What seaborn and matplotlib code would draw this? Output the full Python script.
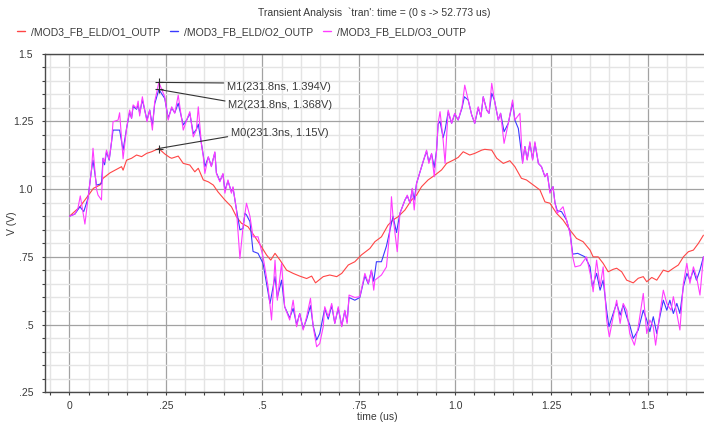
import numpy as np
import pandas as pd
import matplotlib
matplotlib.use("Agg")
import matplotlib.pyplot as plt
from matplotlib.lines import Line2D
from matplotlib.ticker import MultipleLocator
import seaborn as sns

# ---- waveform samples: time in us, voltage in V ----
o1_time = [0.000, 0.027, 0.053, 0.062, 0.079, 0.087, 0.105, 0.122, 0.135, 0.139,
           0.148, 0.161, 0.174, 0.187, 0.200, 0.213, 0.2313, 0.247, 0.260, 0.265,
           0.282, 0.295, 0.312, 0.325, 0.334, 0.347, 0.360, 0.373, 0.385, 0.403,
           0.420, 0.433, 0.446, 0.463, 0.481, 0.498, 0.511, 0.522, 0.533, 0.546,
           0.563, 0.580, 0.597, 0.615, 0.628, 0.638, 0.658, 0.675, 0.693, 0.706,
           0.723, 0.740, 0.757, 0.779, 0.792, 0.809, 0.826, 0.839, 0.852, 0.870,
           0.887, 0.900, 0.913, 0.930, 0.948, 0.965, 0.978, 0.995, 1.008, 1.021,
           1.038, 1.051, 1.069, 1.077, 1.095, 1.108, 1.125, 1.142, 1.155, 1.172,
           1.185, 1.203, 1.220, 1.233, 1.246, 1.263, 1.280, 1.298, 1.315, 1.332,
           1.350, 1.358, 1.371, 1.384, 1.397, 1.410, 1.419, 1.432, 1.445, 1.462,
           1.475, 1.488, 1.497, 1.510, 1.523, 1.540, 1.553, 1.566, 1.579, 1.592,
           1.605, 1.618, 1.631, 1.644]
o1_volt = [0.900, 0.935, 0.985, 1.003, 1.015, 1.040, 1.060, 1.073, 1.083, 1.070,
           1.107, 1.114, 1.126, 1.120, 1.132, 1.138, 1.150, 1.130, 1.117, 1.114,
           1.122, 1.095, 1.089, 1.064, 1.077, 1.034, 1.027, 1.015, 0.990, 0.960,
           0.935, 0.898, 0.874, 0.861, 0.824, 0.787, 0.757, 0.738, 0.763, 0.738,
           0.701, 0.689, 0.679, 0.670, 0.679, 0.654, 0.677, 0.683, 0.677, 0.689,
           0.720, 0.732, 0.757, 0.781, 0.806, 0.824, 0.867, 0.886, 0.898, 0.923,
           0.960, 0.978, 1.009, 1.034, 1.052, 1.071, 1.095, 1.107, 1.117, 1.138,
           1.126, 1.132, 1.144, 1.147, 1.144, 1.114, 1.095, 1.105, 1.083, 1.040,
           1.034, 1.015, 0.997, 0.953, 0.948, 0.911, 0.886, 0.849, 0.818, 0.806,
           0.775, 0.750, 0.750, 0.726, 0.695, 0.704, 0.708, 0.695, 0.664, 0.654,
           0.671, 0.677, 0.658, 0.674, 0.664, 0.701, 0.695, 0.708, 0.720, 0.750,
           0.769, 0.775, 0.800, 0.830]

o2_time = [0.000, 0.014, 0.027, 0.037, 0.048, 0.057, 0.061, 0.070, 0.083, 0.087,
           0.091, 0.096, 0.103, 0.109, 0.113, 0.130, 0.139, 0.148, 0.152, 0.156,
           0.161, 0.165, 0.174, 0.178, 0.182, 0.189, 0.195, 0.201, 0.208, 0.215,
           0.221, 0.2318, 0.247, 0.256, 0.265, 0.273, 0.282, 0.295, 0.304, 0.312,
           0.321, 0.329, 0.334, 0.342, 0.347, 0.351, 0.360, 0.368, 0.377, 0.381,
           0.390, 0.398, 0.403, 0.411, 0.420, 0.424, 0.433, 0.442, 0.450, 0.455,
           0.459, 0.468, 0.476, 0.489, 0.502, 0.511, 0.520, 0.528, 0.533, 0.539,
           0.550, 0.558, 0.571, 0.580, 0.589, 0.597, 0.606, 0.615, 0.625, 0.632,
           0.641, 0.649, 0.658, 0.662, 0.671, 0.680, 0.688, 0.697, 0.706, 0.714,
           0.720, 0.725, 0.740, 0.753, 0.766, 0.775, 0.783, 0.789, 0.796, 0.809,
           0.813, 0.822, 0.831, 0.839, 0.848, 0.857, 0.870, 0.876, 0.883, 0.889,
           0.894, 0.900, 0.909, 0.917, 0.926, 0.932, 0.939, 0.946, 0.952, 0.956,
           0.961, 0.969, 0.974, 0.982, 0.991, 0.999, 1.008, 1.018, 1.024, 1.034,
           1.043, 1.051, 1.060, 1.067, 1.073, 1.082, 1.088, 1.095, 1.102, 1.112,
           1.118, 1.127, 1.138, 1.149, 1.155, 1.164, 1.175, 1.181, 1.187, 1.194,
           1.201, 1.207, 1.216, 1.224, 1.233, 1.239, 1.246, 1.254, 1.259, 1.265,
           1.276, 1.289, 1.298, 1.305, 1.318, 1.337, 1.350, 1.356, 1.367, 1.376,
           1.384, 1.393, 1.399, 1.410, 1.419, 1.428, 1.436, 1.445, 1.453, 1.462,
           1.475, 1.488, 1.497, 1.505, 1.514, 1.523, 1.531, 1.540, 1.549, 1.557,
           1.566, 1.575, 1.583, 1.592, 1.601, 1.609, 1.618, 1.626, 1.635, 1.644]
o2_volt = [0.900, 0.908, 0.935, 0.917, 0.966, 1.070, 1.107, 1.015, 1.020, 1.114,
           1.090, 1.138, 1.107, 1.175, 1.218, 1.218, 1.144, 1.224, 1.255, 1.285,
           1.262, 1.305, 1.295, 1.312, 1.280, 1.330, 1.292, 1.255, 1.292, 1.235,
           1.315, 1.368, 1.335, 1.262, 1.300, 1.282, 1.317, 1.237, 1.255, 1.280,
           1.205, 1.220, 1.240, 1.170, 1.125, 1.083, 1.118, 1.085, 1.135, 1.060,
           1.030, 1.055, 0.995, 1.030, 0.990, 1.005, 0.925, 0.850, 0.855, 0.911,
           0.905, 0.880, 0.770, 0.763, 0.726, 0.652, 0.578, 0.640, 0.677, 0.600,
           0.664, 0.566, 0.525, 0.560, 0.500, 0.541, 0.485, 0.520, 0.570, 0.495,
           0.443, 0.467, 0.530, 0.560, 0.520, 0.570, 0.505, 0.560, 0.495, 0.550,
           0.510, 0.600, 0.590, 0.600, 0.680, 0.650, 0.700, 0.660, 0.732, 0.732,
           0.750, 0.790, 0.849, 0.900, 0.840, 0.911, 0.960, 0.975, 0.950, 1.000,
           0.960, 1.021, 1.064, 1.101, 1.140, 1.100, 1.130, 1.080, 1.144, 1.240,
           1.250, 1.190, 1.218, 1.285, 1.243, 1.278, 1.255, 1.300, 1.341, 1.329,
           1.274, 1.243, 1.300, 1.267, 1.341, 1.292, 1.280, 1.354, 1.329, 1.255,
           1.280, 1.212, 1.243, 1.320, 1.255, 1.224, 1.100, 1.157, 1.110, 1.170,
           1.110, 1.170, 1.095, 1.083, 1.046, 1.058, 0.990, 1.009, 0.950, 0.920,
           0.917, 0.886, 0.840, 0.760, 0.763, 0.750, 0.713, 0.640, 0.689, 0.627,
           0.664, 0.553, 0.492, 0.541, 0.578, 0.535, 0.572, 0.529, 0.498, 0.449,
           0.480, 0.553, 0.517, 0.474, 0.529, 0.467, 0.529, 0.590, 0.553, 0.590,
           0.541, 0.578, 0.541, 0.640, 0.689, 0.664, 0.701, 0.664, 0.701, 0.750]

o3_time = [0.000, 0.014, 0.022, 0.028, 0.040, 0.048, 0.057, 0.061, 0.070, 0.074,
           0.083, 0.087, 0.091, 0.096, 0.103, 0.109, 0.113, 0.126, 0.130, 0.139,
           0.148, 0.156, 0.161, 0.165, 0.174, 0.178, 0.182, 0.189, 0.195, 0.201,
           0.208, 0.215, 0.221, 0.2318, 0.247, 0.256, 0.265, 0.273, 0.282, 0.295,
           0.304, 0.312, 0.321, 0.329, 0.334, 0.342, 0.347, 0.351, 0.360, 0.368,
           0.377, 0.381, 0.390, 0.398, 0.403, 0.411, 0.420, 0.424, 0.433, 0.442,
           0.450, 0.459, 0.468, 0.476, 0.489, 0.502, 0.515, 0.524, 0.533, 0.539,
           0.550, 0.558, 0.571, 0.580, 0.589, 0.597, 0.606, 0.615, 0.625, 0.632,
           0.641, 0.649, 0.658, 0.662, 0.671, 0.680, 0.688, 0.697, 0.706, 0.714,
           0.720, 0.725, 0.740, 0.753, 0.766, 0.775, 0.783, 0.789, 0.792, 0.809,
           0.822, 0.831, 0.835, 0.839, 0.850, 0.857, 0.870, 0.876, 0.883, 0.889,
           0.894, 0.900, 0.909, 0.917, 0.926, 0.932, 0.939, 0.946, 0.952, 0.956,
           0.961, 0.969, 0.974, 0.982, 0.991, 0.999, 1.008, 1.018, 1.025, 1.034,
           1.043, 1.051, 1.060, 1.067, 1.073, 1.082, 1.088, 1.095, 1.102, 1.112,
           1.118, 1.127, 1.138, 1.149, 1.155, 1.168, 1.175, 1.181, 1.187, 1.194,
           1.201, 1.207, 1.216, 1.224, 1.233, 1.239, 1.246, 1.254, 1.259, 1.265,
           1.280, 1.289, 1.298, 1.305, 1.311, 1.325, 1.341, 1.354, 1.358, 1.367,
           1.376, 1.384, 1.393, 1.400, 1.410, 1.419, 1.428, 1.436, 1.445, 1.453,
           1.465, 1.475, 1.488, 1.497, 1.505, 1.514, 1.520, 1.531, 1.540, 1.549,
           1.560, 1.566, 1.575, 1.583, 1.592, 1.601, 1.609, 1.618, 1.626, 1.635,
           1.644]
o3_volt = [0.900, 0.908, 0.930, 0.975, 0.871, 0.966, 1.071, 1.151, 1.000, 0.978,
           0.960, 1.114, 1.100, 1.144, 1.110, 1.175, 1.249, 1.255, 1.282, 1.112,
           1.224, 1.292, 1.261, 1.311, 1.298, 1.325, 1.270, 1.341, 1.292, 1.249,
           1.292, 1.218, 1.323, 1.394, 1.341, 1.255, 1.304, 1.280, 1.347, 1.218,
           1.255, 1.286, 1.193, 1.218, 1.304, 1.169, 1.120, 1.058, 1.120, 1.083,
           1.138, 1.058, 1.027, 1.058, 0.985, 1.034, 0.985, 1.009, 0.923, 0.744,
           0.860, 0.948, 0.900, 0.824, 0.824, 0.750, 0.640, 0.517, 0.738, 0.590,
           0.726, 0.566, 0.517, 0.590, 0.492, 0.541, 0.480, 0.529, 0.597, 0.492,
           0.418, 0.430, 0.492, 0.566, 0.529, 0.578, 0.504, 0.566, 0.492, 0.553,
           0.504, 0.609, 0.600, 0.603, 0.689, 0.652, 0.701, 0.627, 0.664, 0.683,
           0.713, 0.850, 0.972, 0.898, 0.769, 0.911, 0.960, 0.978, 0.948, 1.003,
           0.923, 1.021, 1.064, 1.101, 1.144, 1.095, 1.132, 1.046, 1.144, 1.243,
           1.286, 1.181, 1.095, 1.292, 1.243, 1.280, 1.255, 1.304, 1.384, 1.329,
           1.274, 1.243, 1.304, 1.267, 1.341, 1.292, 1.280, 1.391, 1.329, 1.255,
           1.280, 1.169, 1.243, 1.329, 1.255, 1.280, 1.095, 1.157, 1.107, 1.175,
           1.107, 1.175, 1.095, 1.083, 1.046, 1.058, 0.985, 1.009, 0.948, 0.911,
           0.935, 0.886, 0.837, 0.750, 0.713, 0.718, 0.750, 0.664, 0.621, 0.738,
           0.640, 0.713, 0.517, 0.455, 0.529, 0.590, 0.504, 0.578, 0.553, 0.467,
           0.424, 0.492, 0.615, 0.467, 0.517, 0.492, 0.424, 0.541, 0.627, 0.578,
           0.553, 0.603, 0.541, 0.480, 0.652, 0.726, 0.652, 0.713, 0.677, 0.609,
           0.750]

signal_names = ["/MOD3_FB_ELD/O1_OUTP", "/MOD3_FB_ELD/O2_OUTP", "/MOD3_FB_ELD/O3_OUTP"]
signal_colors = ["#ff4545", "#3a3aff", "#ff3cff"]

# cursor markers: name, time (ns), value (V)
marker_names = ["M1", "M2", "M0"]
marker_ns = [231.8, 231.8, 231.3]
marker_volt = [1.394, 1.368, 1.15]

x_ticks = [0, 0.25, 0.5, 0.75, 1.0, 1.25, 1.5]
x_ticklabels = ["0", ".25", ".5", ".75", "1.0", "1.25", "1.5"]
y_ticks = [0.25, 0.5, 0.75, 1.0, 1.25, 1.5]
y_ticklabels = [".25", ".5", ".75", "1.0", "1.25", "1.5"]

frames = []
for name, t, v in zip(signal_names,
                      [o1_time, o2_time, o3_time],
                      [o1_volt, o2_volt, o3_volt]):
    frames.append(pd.DataFrame({"time": t, "volt": v, "signal": name}))
df = pd.concat(frames, ignore_index=True)

sns.set_style("white")
plt.rcParams["font.family"] = ["Liberation Sans", "DejaVu Sans"]

text_col = "#3a3a3a"
fig = plt.figure(figsize=(7.04, 4.24), dpi=100)
ax = fig.add_axes([45 / 704, 1 - 392.3 / 424, 1 - 45 / 704, (392.3 - 53.7) / 424])

palette = dict(zip(signal_names, signal_colors))
sns.lineplot(data=df, x="time", y="volt", hue="signal", hue_order=signal_names,
             palette=palette, estimator=None, linewidth=0.8, legend=False, ax=ax)

ax.set_xlim(-0.0635, 1.6455)
ax.set_ylim(0.25, 1.5)

# grid: light minor lines every 0.05, darker major lines every 0.25
ax.set_xticks(x_ticks)
ax.set_xticklabels(x_ticklabels)
ax.set_yticks(y_ticks)
ax.set_yticklabels(y_ticklabels)
ax.xaxis.set_minor_locator(MultipleLocator(0.05))
ax.yaxis.set_minor_locator(MultipleLocator(0.05))
ax.grid(which="minor", color="#e4e4e4", linewidth=1.0)
ax.grid(which="major", color="#a2a2a2", linewidth=0.9)
ax.set_axisbelow(True)

ax.tick_params(which="both", direction="out", length=2.5, width=0.8,
               color="#404040", labelsize=7.5, labelcolor=text_col,
               bottom=True, left=True)
ax.tick_params(axis="y", which="major", pad=6)
ax.tick_params(axis="x", which="major", pad=4)

for side in ["left", "bottom", "top"]:
    ax.spines[side].set_color("#4a4a4a")
    ax.spines[side].set_linewidth(1.0)
ax.spines["right"].set_visible(False)

ax.set_xlabel("time (us)", fontsize=7.5, color=text_col)
ax.set_ylabel("V (V)", fontsize=7.5, color=text_col)
ax.xaxis.set_label_coords(0.504, -0.058)
ax.yaxis.set_label_coords(-0.043, 0.5)

# cursor markers with leader lines
marker_t = [ns / 1000.0 for ns in marker_ns]
sns.scatterplot(x=marker_t, y=marker_volt, marker="+", s=30, color="#2e2e2e",
                linewidth=0.8, ax=ax, zorder=5, legend=False)
offsets = {"M1": ((49, -3), (0, 0.86)),
           "M2": ((50, -11.3), (0, 0.86)),
           "M0": ((52, 11.5), (0, 0.14))}
for name, t, ns, v in zip(marker_names, marker_t, marker_ns, marker_volt):
    off, rel = offsets[name]
    ax.annotate(f"{name}({ns:g}ns, {v:g}V)", xy=(t, v), xytext=off,
                textcoords="offset points", ha="left", va="center",
                fontsize=8, color=text_col,
                arrowprops=dict(arrowstyle="-", color="#333333", lw=0.8,
                                relpos=rel, shrinkA=0, shrinkB=0))

# legend row and title
handles = [Line2D([], [], color=c, linewidth=1.0) for c in signal_colors]
fig.legend(handles, signal_names, loc="center left", bbox_to_anchor=(17 / 704, 1 - 32 / 424),
           ncol=3, frameon=False, fontsize=7.5, handlelength=0.8, handletextpad=0.5,
           columnspacing=1.0, borderpad=0, borderaxespad=0, labelcolor=text_col)

fig.text(374 / 704, 1 - 13 / 424,
         "Transient Analysis  `tran': time = (0 s -> 52.773 us)",
         ha="center", va="center", fontsize=7.5, color=text_col)

fig.savefig("out.png", dpi=100)
